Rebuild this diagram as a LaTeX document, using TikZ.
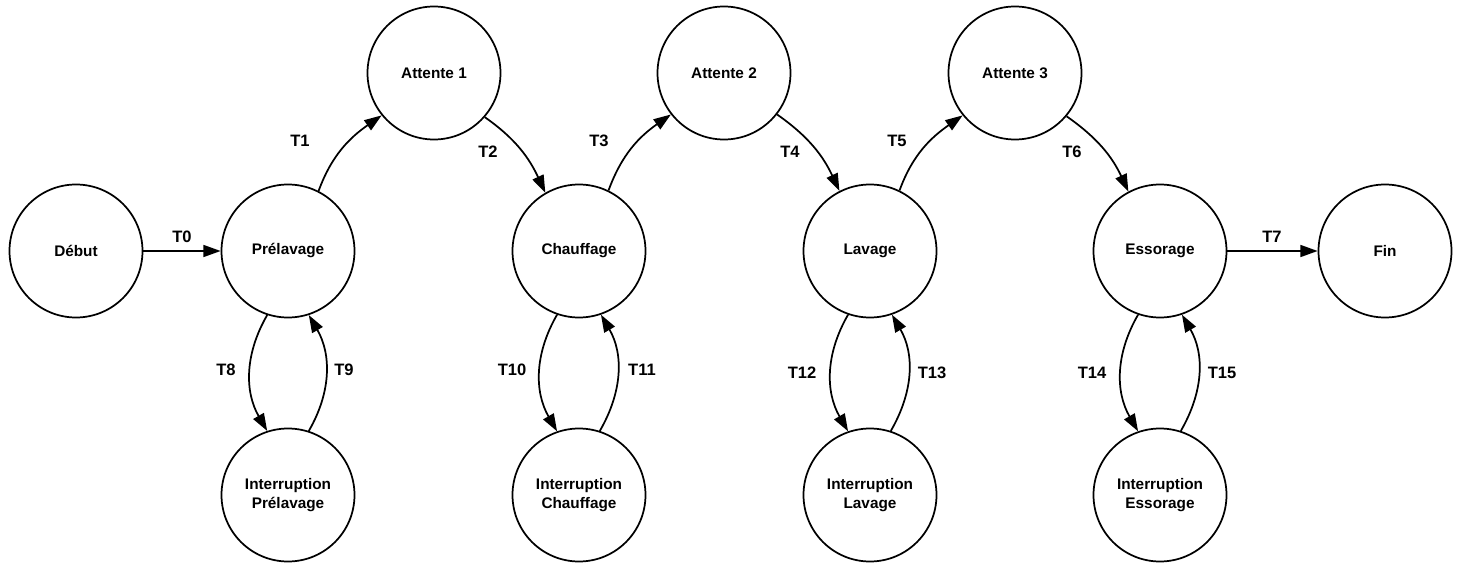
\documentclass[tikz,border=0pt]{standalone}
\usepackage{fontspec}
\setmainfont{Liberation Sans}
\usetikzlibrary{arrows.meta}

\begin{document}
\begin{tikzpicture}[x=0.75pt,y=-0.75pt,>={Triangle[length=13pt,width=9pt]},line width=1.3pt,
  state/.style={draw,circle,minimum size=99.75pt,inner sep=0pt,align=center,font=\fontsize{11.5}{14.25}\selectfont\bfseries},
  lbl/.style={font=\fontsize{12.4}{14}\selectfont\bfseries}]
\useasboundingbox (0,0) rectangle (1463,563);
% states of the cycle
\node[state] (deb) at (76,251){Début};
\node[state] (pre) at (288,251){Prélavage};
\node[state] (chauf) at (579,251){Chauffage};
\node[state] (lav) at (870,251){Lavage};
\node[state] (ess) at (1160,251){Essorage};
\node[state] (fin) at (1385,251){Fin};
\node[state] (att1) at (434,73){Attente 1};
\node[state] (att2) at (724,73){Attente 2};
\node[state] (att3) at (1015,73){Attente 3};
\node[state] (ipre) at (288,495){Interruption\\Prélavage};
\node[state] (ichauf) at (579,495){Interruption\\Chauffage};
\node[state] (ilav) at (870,495){Interruption\\Lavage};
\node[state] (iess) at (1160,495){Interruption\\Essorage};
% transitions
\draw[->] (deb)--(pre);
\draw[->] (ess)--(fin);
\draw[->] (pre.63) to[out=70,in=-145] (att1.-141);
\draw[->] (att1.-41) to[out=-35,in=115] (chauf.120);
\draw[->] (chauf.64) to[out=70,in=-145] (att2.-142);
\draw[->] (att2.-38) to[out=-35,in=115] (lav.117);
\draw[->] (lav.64) to[out=70,in=-145] (att3.-141);
\draw[->] (att3.-40) to[out=-35,in=115] (ess.118);
\draw[->] (pre.-108) to[out=-120,in=120] (ipre.108);
\draw[->] (ipre.72) to[out=60,in=-60] (pre.-72);
\draw[->] (chauf.-109) to[out=-120,in=120] (ichauf.109);
\draw[->] (ichauf.72) to[out=60,in=-60] (chauf.-71);
\draw[->] (lav.-109) to[out=-120,in=120] (ilav.109);
\draw[->] (ilav.72) to[out=60,in=-60] (lav.-71);
\draw[->] (ess.-109) to[out=-120,in=120] (iess.109);
\draw[->] (iess.72) to[out=60,in=-60] (ess.-71);
% labels
\node[lbl] (t0) at (182,237){T0};
\node[lbl] (t1) at (300,141){T1};
\node[lbl] (t2) at (488,152){T2};
\node[lbl] (t3) at (599,141){T3};
\node[lbl] (t4) at (790,152){T4};
\node[lbl] (t5) at (897,141){T5};
\node[lbl] (t6) at (1072,152){T6};
\node[lbl] (t7) at (1272,237){T7};
\node[lbl] (t8) at (226,370){T8};
\node[lbl] (t9) at (344,370){T9};
\node[lbl] (t10) at (512,370){T10};
\node[lbl] (t11) at (642,370){T11};
\node[lbl] (t12) at (802,373){T12};
\node[lbl] (t13) at (932,373){T13};
\node[lbl] (t14) at (1092,373){T14};
\node[lbl] (t15) at (1222,373){T15};
\end{tikzpicture}
\end{document}
